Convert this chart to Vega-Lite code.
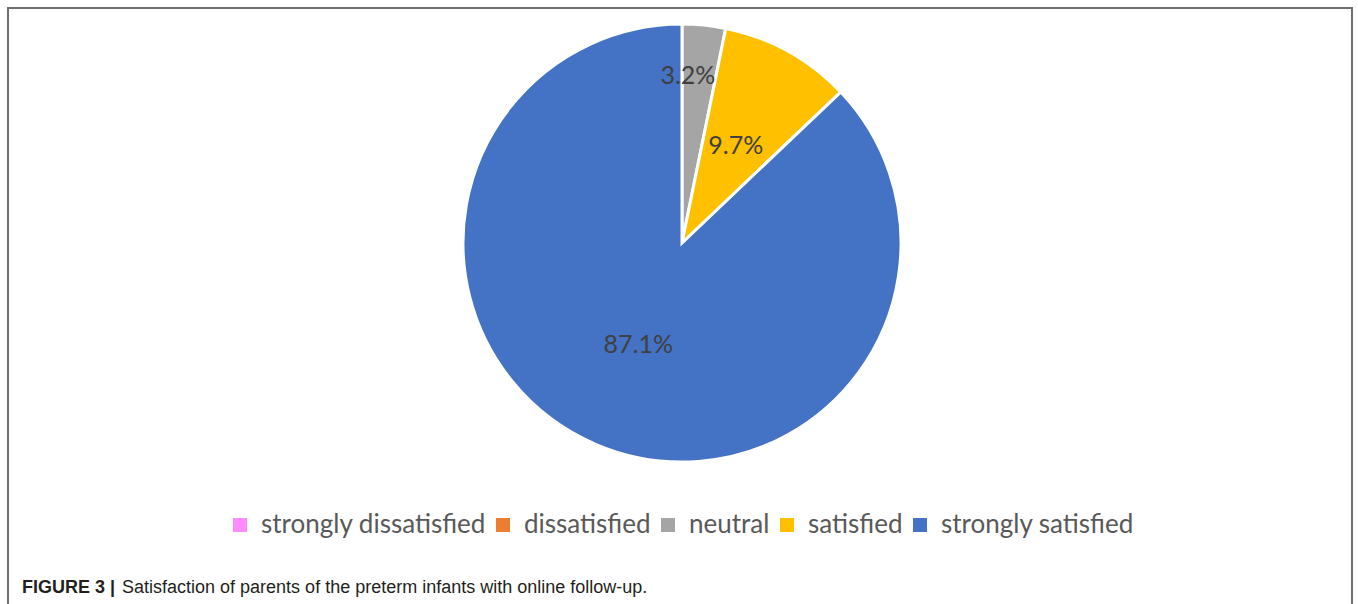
{
  "$schema": "https://vega.github.io/schema/vega-lite/v6.json",
  "width": 1344,
  "height": 600,
  "autosize": {"type": "none"},
  "padding": {"left": 8, "top": 8, "right": 6, "bottom": 0},
  "background": "white",
  "title": {
    "text": "FIGURE 3 |",
    "subtitle": "\u200b\u00a0\u00a0\u00a0\u00a0\u00a0\u00a0\u00a0\u00a0\u00a0\u00a0\u00a0\u00a0\u00a0\u00a0\u00a0\u00a0\u00a0\u00a0\u00a0\u00a0Satisfaction of parents of the preterm infants with online follow-up.",
    "orient": "bottom",
    "anchor": "start",
    "frame": "group",
    "offset": -30,
    "dx": 14,
    "font": "Liberation Sans",
    "fontSize": 18,
    "fontWeight": "bold",
    "color": "#231f20",
    "subtitleFont": "Liberation Sans",
    "subtitleFontSize": 18,
    "subtitleFontWeight": "normal",
    "subtitleColor": "#231f20",
    "subtitlePadding": -18.5
  },
  "data": {
    "values": [
      {"category": "strongly dissatisfied", "rank": 1, "value": 0, "label": ""},
      {"category": "dissatisfied", "rank": 2, "value": 0, "label": ""},
      {"category": "neutral", "rank": 3, "value": 3.2, "label": "3.2%"},
      {"category": "satisfied", "rank": 4, "value": 9.7, "label": "9.7%"},
      {"category": "strongly satisfied", "rank": 5, "value": 87.1, "label": "87.1%"}
    ]
  },
  "layer": [
    {
      "data": {"values": [{"frame": "box"}]},
      "mark": {"type": "rect", "fill": null, "stroke": "#6e6e6e", "strokeWidth": 2},
      "encoding": {}
    },
    {
      "mark": {"type": "arc", "outerRadius": 219, "stroke": "white", "strokeWidth": 3, "xOffset": 2, "yOffset": -65},
      "encoding": {
        "theta": {"field": "value", "type": "quantitative", "stack": true},
        "order": {"field": "rank", "type": "quantitative"},
        "color": {
          "field": "category",
          "type": "nominal",
          "scale": {
            "domain": ["strongly dissatisfied", "dissatisfied", "neutral", "satisfied", "strongly satisfied"],
            "range": ["#FF8CFF", "#ED7D31", "#A5A5A5", "#FFC000", "#4472C4"]
          },
          "legend": {
            "title": null,
            "orient": "none",
            "direction": "horizontal",
            "legendX": 219,
            "legendY": 504,
            "symbolType": "square",
            "symbolSize": 196,
            "symbolStrokeWidth": 0,
            "labelFont": "Lato",
            "labelFontSize": 26,
            "labelColor": "#595959",
            "labelOffset": 8,
            "columnPadding": 4,
            "labelLimit": 400
          }
        }
      }
    },
    {
      "mark": {"type": "text", "radius": 168, "xOffset": 2, "yOffset": -65, "dx": -11, "font": "Lato", "fontSize": 25, "color": "#404040", "baseline": "middle", "align": "center"},
      "encoding": {
        "theta": {"field": "value", "type": "quantitative", "stack": true},
        "order": {"field": "rank", "type": "quantitative"},
        "text": {"condition": {"test": "datum.category === 'neutral'", "field": "label"}, "value": ""}
      }
    },
    {
      "mark": {"type": "text", "radius": 111, "xOffset": 2, "yOffset": -65, "font": "Lato", "fontSize": 25, "color": "#404040", "baseline": "middle", "align": "center"},
      "encoding": {
        "theta": {"field": "value", "type": "quantitative", "stack": true},
        "order": {"field": "rank", "type": "quantitative"},
        "text": {"condition": {"test": "datum.category !== 'neutral'", "field": "label"}, "value": ""}
      }
    }
  ],
  "config": {
    "view": {"stroke": null}
  }
}
